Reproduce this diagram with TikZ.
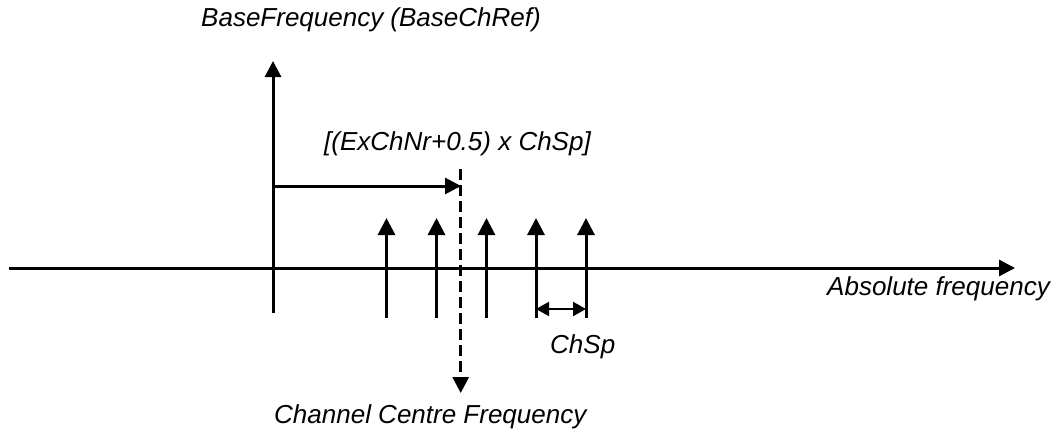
\documentclass[tikz,border=0pt]{standalone}
\usepackage{fontspec}
\setmainfont{Liberation Sans}
\usetikzlibrary{arrows.meta}
\begin{document}
\begin{tikzpicture}[x=1pt,y=-1pt,
  lbl/.style={font=\fontsize{26}{29}\selectfont\itshape, inner sep=0pt, anchor=base west},
  thick line/.style={line width=3pt},
  bigtip/.style={-{Triangle[length=16pt,width=16pt]}},
  smalltip/.style={-{Triangle[length=17pt,width=17pt]}}]
\useasboundingbox (0,0) rectangle (1056,431);
% coordinates
\coordinate (axL) at (9,268);
\coordinate (axR) at (1015,268);
\coordinate (baseB) at (273,313);
\coordinate (baseT) at (273,61);
\coordinate (hA) at (273,186);
\coordinate (hB) at (461,186);
\coordinate (dT) at (460.7,169);
\coordinate (dB) at (460.7,393);
\foreach \i/\x in {1/386.5,2/436.5,3/486.5,4/536,5/586} {
  \coordinate (c\i b) at (\x,318);
  \coordinate (c\i t) at (\x,218);
}
\coordinate (spA) at (536,309);
\coordinate (spB) at (586,309);
% axis
\draw[thick line, bigtip] (axL) -- (axR);
\draw[thick line, bigtip] (baseB) -- (baseT);
\draw[thick line, bigtip] (hA) -- (hB);
\draw[thick line, dash pattern=on 11pt off 5pt, -{Triangle[length=16pt,width=16pt]}] (dT) -- (dB);
\foreach \i in {1,...,5} \draw[thick line, smalltip] (c\i b) -- (c\i t);
\draw[line width=2.2pt, {Triangle[length=13pt,width=14pt]}-{Triangle[length=13pt,width=14pt]}] (spA) -- (spB);
% labels
\node[lbl] (tbase) at (201,27) {BaseFrequency (BaseChRef)};
\node[lbl] (tex) at (324,150) {[(ExChNr+0.5) x ChSp]};
\node[lbl, anchor=base east] (tabs) at (1050,295) {Absolute frequency};
\node[lbl] (tsp) at (550,353) {ChSp};
\node[lbl] (tcc) at (274,423) {Channel Centre Frequency};
\end{tikzpicture}
\end{document}
